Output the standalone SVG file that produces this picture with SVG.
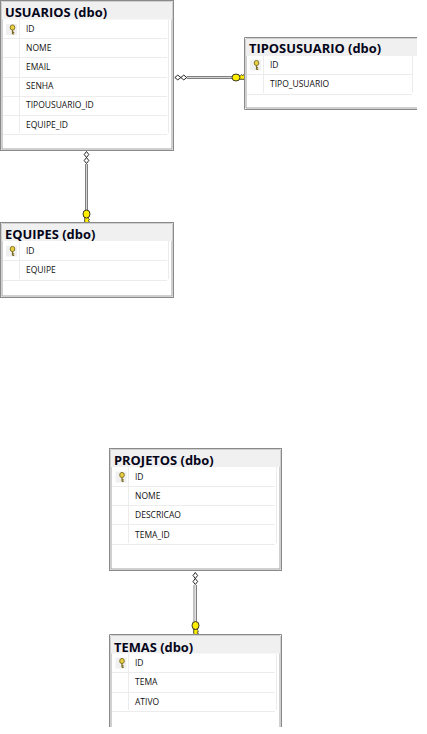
<svg xmlns="http://www.w3.org/2000/svg" width="427" height="734" viewBox="0 0 427 734">
<style>
.box{fill:#fff;stroke:#8a8a8a;stroke-width:1}
.in{fill:none;stroke:#a0a0a0;stroke-width:1}
.band{fill:#f0f0f0}
.grid{stroke:#ececec;stroke-width:1;fill:none}
.t{font:700 12.9px "Open Sans",sans-serif;fill:#05051a}
.f{font:400 8.5px "Open Sans",sans-serif;fill:#111}
.pipe{stroke:#808080;stroke-width:1;fill:none}
.pipe2{stroke:#d4d4d4;stroke-width:1;fill:none}
.dia{fill:#fff;stroke:#111;stroke-width:.9;stroke-linejoin:round}
</style>
<defs>
<g id="key">
<rect x="-5.500" y="-5.500" width="11" height="11" fill="#f0f0f0"/>
<ellipse cx="1" cy="-2" rx="2.300" ry="2.600" fill="#e8d040" stroke="#7a6a20" stroke-width=".9"/>
<path d="M1 0.500V4.500M1 2.800H2.700M1 4.500H2.700" stroke="#7a6a20" stroke-width="1.200" fill="none"/>
</g>
<g id="fk">
<path d="M-1.800 -.5V4L0 5.500L3 3.800L1.800 2.800L3 1.500L1.800 .5V-.5Z" fill="#ffee00" stroke="#222" stroke-width=".8"/>
<ellipse cx="0" cy="-4" rx="3.500" ry="4" fill="#ffee00" stroke="#222" stroke-width=".9"/>
</g>
</defs>

<g id="connectors">
<g id="c-usuarios-tiposusuario">
<path class="pipe" d="M187 76.500H234M187 78.500H234"/><path class="pipe2" d="M187 77.500H234"/>
<path class="dia" d="M174.800 77.500l3-2.400 3 2.400-3 2.400zM180.800 77.500l3-2.400 3 2.400-3 2.400z"/>
<g transform="translate(240 77.500) rotate(-90)"><use href="#fk"/></g>
</g>
<g id="c-usuarios-equipes">
<path class="pipe" d="M85.500 164V212M87.500 164V212"/><path class="pipe2" d="M86.500 164V212"/>
<path class="dia" d="M86.500 151.500l2.300 3-2.300 3-2.300-3zM86.500 157.500l2.300 3-2.300 3-2.300-3z"/>
<g transform="translate(86.500 218)"><use href="#fk"/></g>
</g>
<g id="c-projetos-temas">
<path class="pipe" d="M194 585V623M196.500 585V623"/><path class="pipe2" d="M195.200 585V623"/>
<path class="dia" d="M195.300 572.500l2.300 3-2.300 3-2.300-3zM195.300 578.500l2.300 3-2.300 3-2.300-3z"/>
<g transform="translate(195.500 629.500)"><use href="#fk"/></g>
</g>
</g>

<g id="usuarios">
<rect class="box" x="0.500" y="0.500" width="173" height="150"/>
<rect class="in" x="2" y="2" width="170" height="147"/>
<rect class="band" x="2" y="2" width="170" height="17.500"/>
<path class="grid" d="M3 38.500H167M3 57.500H167M3 77.500H167M3 96.500H167M3 115.500H167M3 134.500H167M19.500 20V133M168.500 20V133"/>
<use href="#key" x="11.500" y="29.500"/>
<text class="t" x="5" y="17">USUARIOS (dbo)</text>
<text class="f" x="26" y="32">ID</text>
<text class="f" x="26" y="51">NOME</text>
<text class="f" x="26" y="70">EMAIL</text>
<text class="f" x="26" y="89">SENHA</text>
<text class="f" x="26" y="108">TIPOUSUARIO_ID</text>
<text class="f" x="26" y="128">EQUIPE_ID</text>
</g>

<g id="tiposusuario">
<path class="box" d="M417 37.500H244.500V109.500H417"/>
<path class="in" d="M417 39H246V108H417"/>
<rect class="band" x="246" y="39" width="171" height="17"/>
<path class="grid" d="M247 74.500H412M247 94.500H412M263.500 56V93M412.500 56V93"/>
<use href="#key" x="255.500" y="65"/>
<text class="t" x="249" y="53">TIPOSUSUARIO (dbo)</text>
<text class="f" x="270" y="68">ID</text>
<text class="f" x="270" y="87">TIPO_USUARIO</text>
</g>

<g id="equipes">
<rect class="box" x="0.500" y="222.500" width="173" height="75"/>
<rect class="in" x="2" y="224" width="170" height="72"/>
<rect class="band" x="2" y="224" width="170" height="17"/>
<path class="grid" d="M3 260.500H167M3 280.500H167M19.500 241V279M168.500 241V279"/>
<use href="#key" x="11.500" y="251"/>
<text class="t" x="5" y="239">EQUIPES (dbo)</text>
<text class="f" x="26" y="254">ID</text>
<text class="f" x="26" y="273">EQUIPE</text>
</g>

<g id="projetos">
<rect class="box" x="109.500" y="448.500" width="172" height="122"/>
<rect class="in" x="111" y="450" width="169" height="119"/>
<rect class="band" x="111" y="450" width="169" height="17"/>
<path class="grid" d="M112 486.500H275M112 505.500H275M112 524.500H275M112 544.500H275M128.500 467V543M276.500 467V543"/>
<use href="#key" x="121" y="477"/>
<text class="t" x="114" y="465">PROJETOS (dbo)</text>
<text class="f" x="135" y="480">ID</text>
<text class="f" x="135" y="499">NOME</text>
<text class="f" x="135" y="518">DESCRICAO</text>
<text class="f" x="135" y="538">TEMA_ID</text>
</g>

<g id="temas">
<path class="box" d="M109.500 727V634.500H281.500V727"/>
<path class="in" d="M111 727V636H280V727"/>
<rect class="band" x="111" y="636" width="169" height="17.500"/>
<path class="grid" d="M112 672.500H275M112 692.500H275M112 711.500H275M128.500 654V710M276.500 654V710"/>
<use href="#key" x="121" y="663"/>
<text class="t" x="114" y="652">TEMAS (dbo)</text>
<text class="f" x="135" y="666">ID</text>
<text class="f" x="135" y="685">TEMA</text>
<text class="f" x="135" y="705">ATIVO</text>
</g>
</svg>
